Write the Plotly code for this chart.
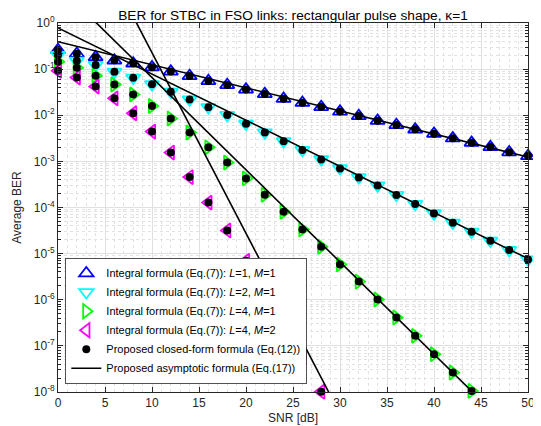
import plotly.graph_objects as go

# ---------------- data ----------------
snr = [0, 2, 4, 6, 8, 10, 12, 14, 16, 18, 20, 22, 24, 26, 28, 30, 32, 34, 36, 38, 40, 42, 44, 46, 48, 50]

# -log10(BER) values
nlog_L1M1 = [0.586, 0.665, 0.74, 0.81, 0.875, 0.96, 1.05, 1.15, 1.258, 1.345, 1.44, 1.54, 1.64,
             1.73, 1.82, 1.92, 2.017, 2.12, 2.21, 2.306, 2.40, 2.50, 2.597, 2.69, 2.80, 2.885]
nlog_L2M1 = [0.694, 0.818, 0.911, 1.056, 1.187, 1.330, 1.490, 1.659, 1.829, 1.996, 2.184, 2.375, 2.566,
             2.755, 2.957, 3.152, 3.347, 3.525, 3.731, 3.926, 4.128, 4.332, 4.527, 4.722, 4.924, 5.126]
nlog_L4M1 = [0.839, 0.970, 1.143, 1.334, 1.551, 1.800, 2.072, 2.375, 2.696, 3.026, 3.369, 3.725, 4.093,
             4.475, 4.852, 5.234, 5.607, 5.993, 6.384, 6.783, 7.180, 7.577, 7.976]
nlog_L4M2 = [1.035, 1.182, 1.377, 1.633, 1.957, 2.354, 2.809, 3.341, 3.894, 4.497, 5.156, 5.829, 6.53,
             7.252, 7.993]

# asymptotic straight lines: BER at SNR = 0 dB and 50 dB
asym_snr = [0, 50]
asym_L1M1 = [0.394, 1.245e-3]
asym_L2M1 = [0.78, 7.8e-6]
asym_L4M1 = [6.58, 6.6e-10]
asym_L4M2 = [1862.0, 5.0e-17]

labels = [
    "Integral formula (Eq.(7)): <i>L</i>=1, <i>M</i>=1",
    "Integral formula (Eq.(7)): <i>L</i>=2, <i>M</i>=1",
    "Integral formula (Eq.(7)): <i>L</i>=4, <i>M</i>=1",
    "Integral formula (Eq.(7)): <i>L</i>=4, <i>M</i>=2",
]
label_closed = "Proposed closed-form formula (Eq.(12))"
label_asym = "Proposed asymptotic formula (Eq.(17))"

series = [nlog_L1M1, nlog_L2M1, nlog_L4M1, nlog_L4M2]
asyms = [asym_L1M1, asym_L2M1, asym_L4M1, asym_L4M2]
colors = ["#0000ff", "#00ffff", "#00ff00", "#ff00ff"]
symbols = ["triangle-up-open", "triangle-down-open", "triangle-right-open", "triangle-left-open"]

FONT = "Liberation Sans, Arial, Helvetica, sans-serif"

fig = go.Figure()

for s, c, sym, lab in zip(series, colors, symbols, labels):
    ber = [10 ** (-v) for v in s]
    fig.add_trace(go.Scatter(
        x=snr[:len(s)], y=ber, mode="markers", name=lab, cliponaxis=False,
        marker=dict(symbol=sym, size=12.5, color=c, line=dict(color=c, width=1.8)),
    ))

for i, s in enumerate(series):
    ber = [10 ** (-v) for v in s]
    fig.add_trace(go.Scatter(
        x=snr[:len(s)], y=ber, mode="markers", name=label_closed, cliponaxis=False,
        legendgroup="closed", showlegend=(i == 0),
        marker=dict(symbol="circle", size=8, color="black"),
    ))

for i, a in enumerate(asyms):
    fig.add_trace(go.Scatter(
        x=asym_snr, y=a, mode="lines", name=label_asym,
        legendgroup="asym", showlegend=(i == 0),
        line=dict(color="black", width=1.6),
    ))

ytick_vals = [10 ** (-k) for k in range(0, 9)]
ytick_text = ["10<sup>%d</sup>" % (-k) if k else "10<sup>0</sup>" for k in range(0, 9)]
yminor_vals = [m * 10 ** (-k) for k in range(1, 9) for m in range(2, 10)]

axis_col = "#262626"
grid_major = "#e0e0e0"
grid_minor = "#e2e2e2"

# the page body adds an 8 px offset, so the figure is sized to fit the window
W, H = 533, 418

fig.update_layout(
    width=W, height=H,
    margin=dict(l=50, r=13, t=15, b=34),
    paper_bgcolor="white", plot_bgcolor="white",
    font=dict(family=FONT, size=12, color=axis_col),
    title=dict(text="BER for STBC in FSO links: rectangular pulse shape, κ=1",
               x=0.5, xref="paper", y=1 - 7 / H, yref="container",
               xanchor="center", yanchor="middle",
               font=dict(family=FONT, size=13.7, color="black")),
    showlegend=True,
    legend=dict(x=0.016, y=0.022, xanchor="left", yanchor="bottom",
                bgcolor="white", bordercolor="#262626", borderwidth=0.8,
                font=dict(family=FONT, size=11, color="black"),
                tracegroupgap=0, itemwidth=30),
    xaxis=dict(range=[0, 50], dtick=5, tick0=0, showline=True, linecolor=axis_col, linewidth=1,
               mirror="ticks", ticks="inside", ticklen=5, tickcolor=axis_col,
               showgrid=True, gridcolor=grid_major, gridwidth=1, zeroline=False, automargin=False,
               minor=dict(dtick=1, showgrid=True, gridcolor=grid_minor, griddash="dot",
                          gridwidth=1, ticks=""),
               title=dict(text="SNR [dB]", standoff=4, font=dict(size=12, color=axis_col)),
               tickfont=dict(size=12, color=axis_col)),
    yaxis=dict(type="log", range=[-8, 0], tickmode="array", tickvals=ytick_vals, ticktext=ytick_text,
               showline=True, linecolor=axis_col, linewidth=1, mirror="ticks",
               ticks="inside", ticklen=5, tickcolor=axis_col, automargin=False,
               showgrid=True, gridcolor=grid_major, gridwidth=1, zeroline=False,
               minor=dict(tickmode="array", tickvals=yminor_vals, showgrid=True, gridcolor=grid_minor,
                          griddash="dot", gridwidth=1, ticks="inside", ticklen=3, tickcolor=axis_col),
               title=dict(text="Average BER", standoff=9, font=dict(size=12, color=axis_col)),
               tickfont=dict(size=12, color=axis_col)),
)

fig.write_html("out.html")
